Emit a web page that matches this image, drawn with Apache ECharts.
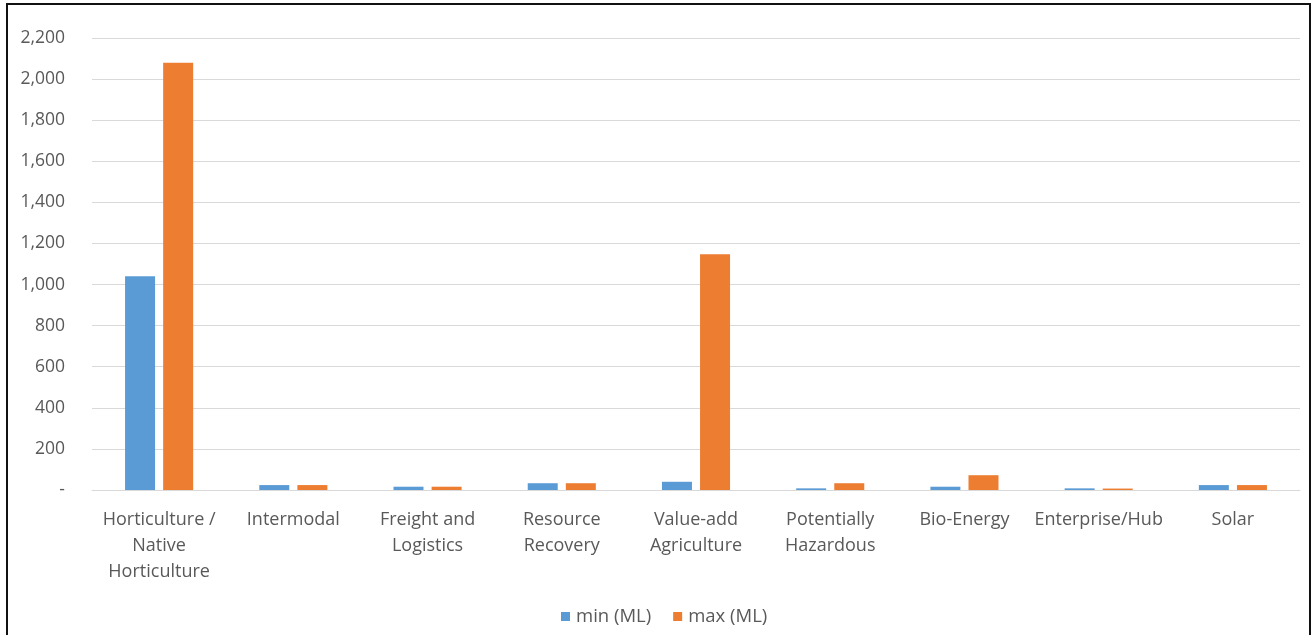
<!DOCTYPE html>
<html>
<head>
<meta charset="utf-8">
<script src="https://cdn.jsdelivr.net/npm/echarts@6/dist/echarts.min.js"></script>
<style>
  html, body { margin: 0; padding: 0; background: #fff; }
  #frame {
    position: absolute; left: 6px; top: 3px; width: 1301px; height: 640px;
    border-left: 2px solid #111; border-top: 2px solid #111; border-right: 2px solid #111;
  }
  #chart { position: absolute; left: 0; top: 0; width: 1311px; height: 635px; }
</style>
</head>
<body>
<div id="frame"></div>
<div id="chart"></div>
<script>
const categories = [
  'Horticulture /\nNative\nHorticulture', 'Intermodal', 'Freight and\nLogistics',
  'Resource\nRecovery', 'Value-add\nAgriculture', 'Potentially\nHazardous',
  'Bio-Energy', 'Enterprise/Hub', 'Solar'
];
const minML = [1040, 24, 16, 33, 40, 8, 16, 8, 24];
const maxML = [2080, 24, 16, 33, 1148, 33, 72, 7, 24];
const seriesNames = ['min (ML)', 'max (ML)'];

const font = '"Open Sans", "Noto Sans", sans-serif';
const chart = echarts.init(document.getElementById('chart'));
chart.setOption({
  animation: false,
  textStyle: { fontFamily: font },
  grid: { left: 92, right: 11, top: 38, bottom: 145, containLabel: false },
  legend: {
    bottom: 4, left: 556, itemWidth: 9, itemHeight: 9, itemGap: 22,
    icon: 'rect',
    textStyle: { color: '#595959', fontSize: 18.5, fontFamily: font, padding: [0, 0, 0, 1] },
    data: seriesNames
  },
  xAxis: {
    type: 'category', data: categories,
    axisLine: { lineStyle: { color: '#D9D9D9', width: 1 } },
    axisTick: { show: false },
    axisLabel: { color: '#595959', fontSize: 18, lineHeight: 26, margin: 17, interval: 0, fontFamily: font }
  },
  yAxis: {
    type: 'value', min: 0, max: 2200, interval: 200,
    axisLine: { show: false }, axisTick: { show: false },
    splitLine: { lineStyle: { color: '#D9D9D9', width: 1 } },
    axisLabel: {
      color: '#595959', fontSize: 17.5, margin: 27, fontFamily: font,
      formatter: v => v === 0 ? '-' : v.toLocaleString('en-US')
    }
  },
  series: [
    { name: seriesNames[0], type: 'bar', data: minML, barWidth: 30, barGap: '27%',
      itemStyle: { color: '#5B9BD5' } },
    { name: seriesNames[1], type: 'bar', data: maxML, barWidth: 30,
      itemStyle: { color: '#ED7D31' } }
  ]
});
</script>
</body>
</html>
